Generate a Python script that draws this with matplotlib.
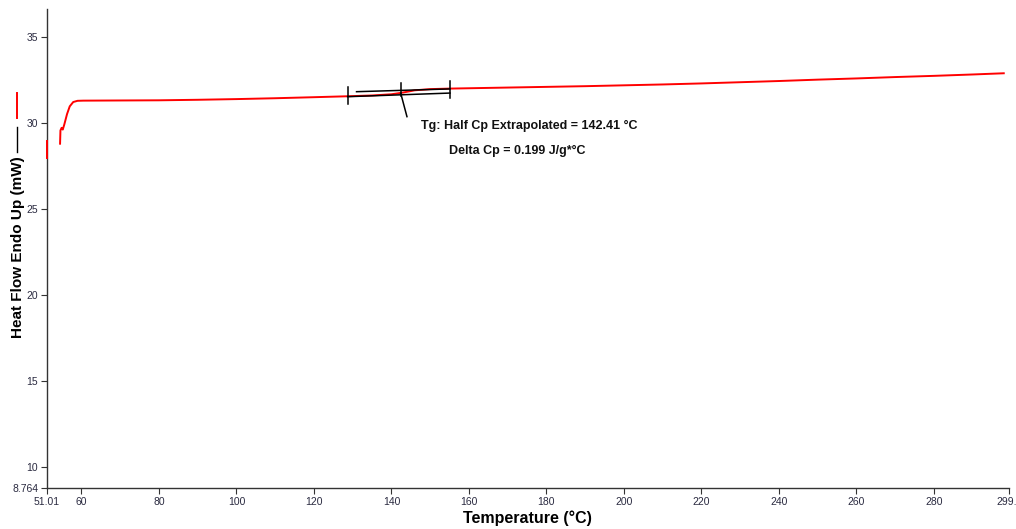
import matplotlib
matplotlib.use("Agg")
import matplotlib.pyplot as plt
from matplotlib.lines import Line2D

plt.rcParams['font.family'] = ['Liberation Sans', 'DejaVu Sans']

# DSC heat flow trace (temperature in degC, heat flow in mW)
temp = [54.5, 54.6, 54.9, 55.2, 55.6, 56.3, 57.0, 57.9, 59.0, 60.5, 70, 80, 90,
        100, 110, 120, 128, 135, 140, 143, 146, 150, 155, 160, 170, 180, 190,
        200, 210, 220, 230, 240, 250, 260, 270, 280, 290, 298]
heat_flow = [28.78, 29.55, 29.70, 29.60, 29.90, 30.50, 30.95, 31.20, 31.27, 31.28,
             31.29, 31.30, 31.33, 31.37, 31.42, 31.48, 31.53, 31.58, 31.65, 31.75,
             31.88, 31.95, 31.98, 32.00, 32.04, 32.08, 32.12, 32.17, 32.22, 32.28,
             32.35, 32.42, 32.50, 32.57, 32.65, 32.72, 32.80, 32.87]
# first points recorded right at the start temperature
start_temp = [51.2, 51.2]
start_flow = [27.97, 28.96]

# glass transition analysis
tg = 142.41
delta_cp = 0.199
onset_t, end_t = 128.7, 155.1
base_lo = [31.51, 31.72]      # extrapolated baseline below the step
base_hi_t = [131.0, 155.1]
base_hi = [31.80, 31.96]      # extrapolated baseline above the step

x_min, x_max = 51.01, 299.4
y_min, y_max = 8.764, 36.6
x_ticks = [51.01, 60, 80, 100, 120, 140, 160, 180, 200, 220, 240, 260, 280, 299.4]
x_labels = ['51.01'] + [str(v) for v in range(60, 300, 20)] + ['299.4']
y_ticks = [8.764, 10, 15, 20, 25, 30, 35]
y_labels = ['8.764', '10', '15', '20', '25', '30', '35']

fig = plt.figure(figsize=(10.16, 5.29), dpi=100)
ax = fig.add_axes([0.0458, 0.0769, 0.9475, 0.906])

ax.plot(temp, heat_flow, color='red', lw=1.4)
ax.plot(start_temp, start_flow, color='red', lw=1.4, zorder=5, clip_on=False)

# Tg construction
k = dict(color='black', lw=1.1)
ax.plot([onset_t, end_t], base_lo, **k)
ax.plot(base_hi_t, base_hi, **k)
ax.plot([onset_t, onset_t], [31.09, 32.06], **k)
ax.plot([end_t, end_t], [31.41, 32.43], **k)
ax.plot([tg, tg], [31.57, 32.33], **k)
ax.plot([tg, tg + 1.6], [31.70, 30.35], **k)

ax.text(147.7, 29.83, 'Tg: Half Cp Extrapolated = %.2f \u00b0C' % tg,
        fontsize=9, fontweight='bold', va='center', ha='left', color='#111111')
ax.text(154.9, 28.38, 'Delta Cp = %.3f J/g*\u00b0C' % delta_cp,
        fontsize=9, fontweight='bold', va='center', ha='left', color='#111111')

ax.set_xlim(x_min, x_max)
ax.set_ylim(y_min, y_max)
ax.set_xticks(x_ticks)
ax.set_xticklabels(x_labels)
ax.set_yticks(y_ticks)
ax.set_yticklabels(y_labels)
ax.tick_params(labelsize=7.5, colors='#333333', labelcolor='#2a2a40', length=4, width=0.8)
ax.tick_params(axis='x', pad=2)
ax.tick_params(axis='y', pad=2)
for s in ['top', 'right']:
    ax.spines[s].set_visible(False)
for s in ['left', 'bottom']:
    ax.spines[s].set_color('#333333')
    ax.spines[s].set_linewidth(1.0)

ax.set_xlabel('Temperature (\u00b0C)', fontsize=11.5, fontweight='bold', labelpad=3)
ax.set_ylabel('Heat Flow Endo Up (mW)', fontsize=11, fontweight='bold')
ax.yaxis.set_label_coords(-0.0225, 0.503)

# curve key next to the y label
fig.add_artist(Line2D([0.0167, 0.0167], [1 - 93 / 529, 1 - 118 / 529],
                      color='red', lw=1.4, transform=fig.transFigure))
fig.add_artist(Line2D([0.0167, 0.0167], [1 - 127 / 529, 1 - 152 / 529],
                      color='black', lw=1.0, transform=fig.transFigure))

fig.savefig('out.png', dpi=100)
